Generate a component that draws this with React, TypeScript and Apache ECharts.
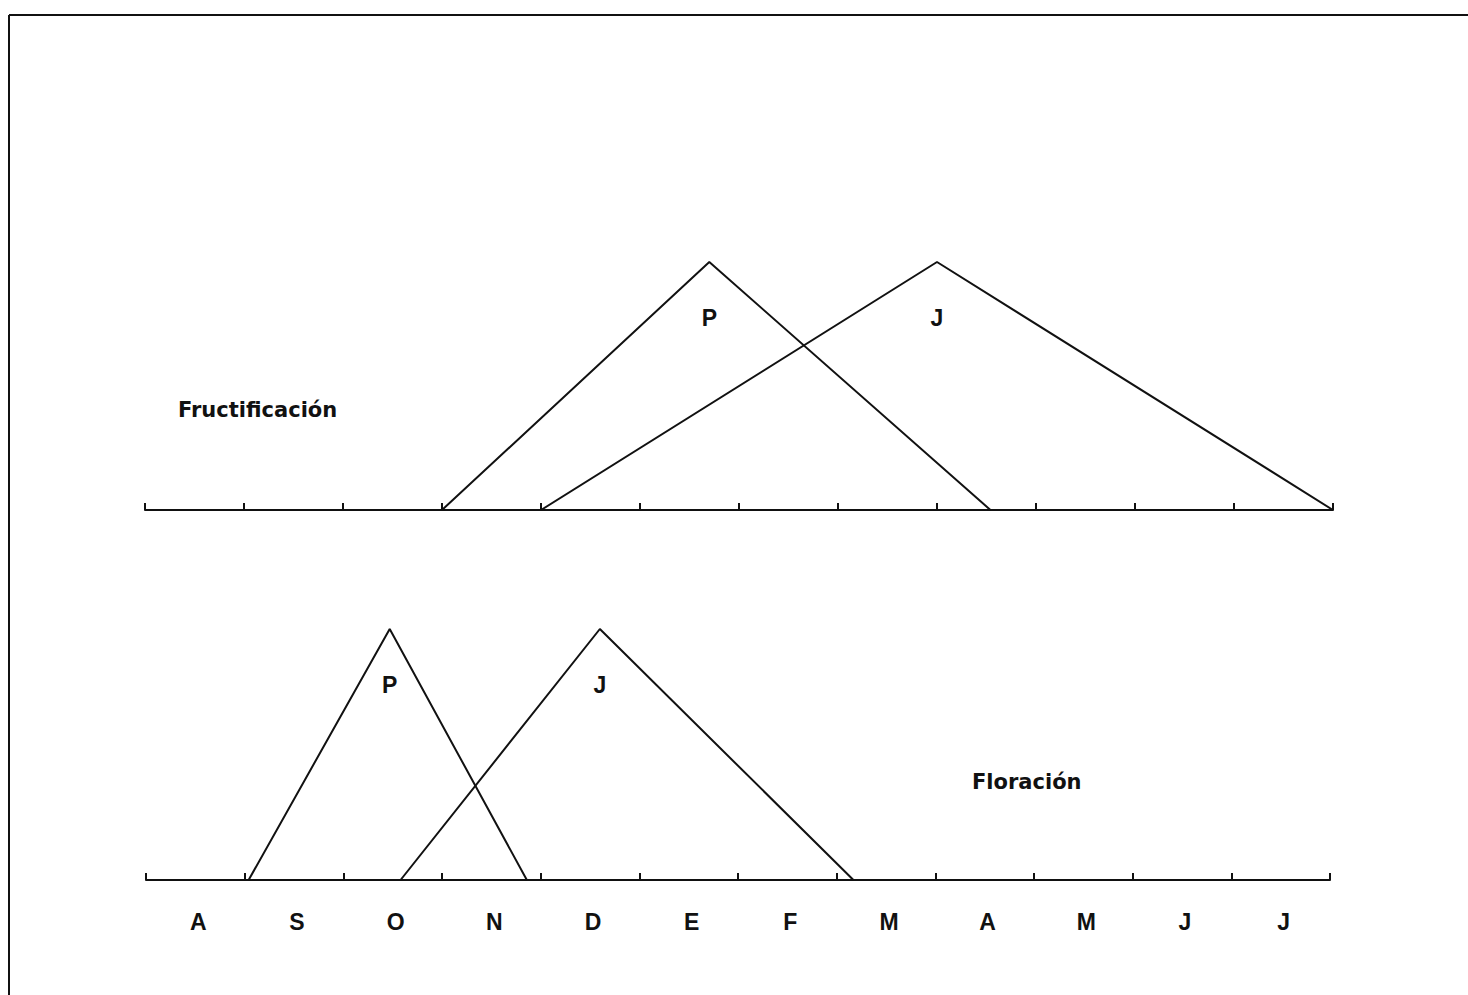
import React, { useEffect, useRef } from "react";
import * as echarts from "echarts";

const months = ["A", "S", "O", "N", "D", "E", "F", "M", "A", "M", "J", "J"];
// x in month units from start of August (0) to end of July (12); y is relative intensity
const fructP: [number, number][] = [[3.0, 0], [5.7, 1], [8.54, 0]];
const fructJ: [number, number][] = [[4.0, 0], [8.0, 1], [12.0, 0]];
const florP: [number, number][] = [[1.04, 0], [2.47, 1], [3.86, 0]];
const florJ: [number, number][] = [[2.58, 0], [4.6, 1], [7.17, 0]];
const seriesNames = ["P", "J"];

const FONT = "'Liberation Sans', Arial, sans-serif";
const TITLE_FONT = "'DejaVu Sans', sans-serif";
const INK = "#111111";

function tri(data: [number, number][], name: string, idx: number) {
  return {
    type: "line",
    name,
    xAxisIndex: idx,
    yAxisIndex: idx,
    symbol: "none",
    lineStyle: { color: INK, width: 2 },
    data,
  };
}

function peakLabel(data: [number, number][], name: string, idx: number) {
  return {
    type: "scatter",
    name,
    xAxisIndex: idx,
    yAxisIndex: idx,
    symbolSize: 0.5,
    itemStyle: { color: INK, opacity: 1 },
    label: {
      show: true,
      formatter: name,
      position: "bottom",
      distance: 44,
      fontFamily: FONT,
      fontWeight: "bold",
      fontSize: 23,
      color: INK,
      opacity: 1,
    },
    data: [data[1]],
  };
}

export default function App() {
  const ref = useRef<HTMLDivElement>(null);
  useEffect(() => {
    const chart = echarts.init(ref.current!, null, { renderer: "svg" });
    const valueAxis = (gi: number) => ({
      type: "value",
      gridIndex: gi,
      min: 0,
      max: 12,
      interval: 1,
      axisLine: { show: true, lineStyle: { color: INK, width: 2 } },
      axisTick: { show: true, inside: true, length: 7, lineStyle: { color: INK, width: 2 } },
      axisLabel: { show: false },
      splitLine: { show: false },
    });
    chart.setOption({
      animation: false,
      backgroundColor: "#ffffff",
      grid: [
        { left: 145, right: 135, top: 262, height: 248 },
        { left: 146, right: 138, top: 629, height: 251 },
      ],
      xAxis: [
        valueAxis(0),
        valueAxis(1),
        {
          type: "category",
          gridIndex: 1,
          data: months,
          boundaryGap: true,
          position: "bottom",
          axisLine: { show: false },
          axisTick: { show: false },
          axisLabel: {
            show: true,
            margin: 30,
            fontFamily: FONT,
            fontWeight: "bold",
            fontSize: 23,
            color: INK,
            padding: [0, 0, 0, 6],
          },
        },
      ],
      yAxis: [
        { type: "value", gridIndex: 0, min: 0, max: 1, show: false },
        { type: "value", gridIndex: 1, min: 0, max: 1, show: false },
      ],
      series: [
        tri(fructP, seriesNames[0], 0),
        tri(fructJ, seriesNames[1], 0),
        tri(florP, seriesNames[0], 1),
        tri(florJ, seriesNames[1], 1),
        peakLabel(fructP, seriesNames[0], 0),
        peakLabel(fructJ, seriesNames[1], 0),
        peakLabel(florP, seriesNames[0], 1),
        peakLabel(florJ, seriesNames[1], 1),
      ],
      graphic: [
        { type: "line", shape: { x1: 9, y1: 15, x2: 1468, y2: 15 }, style: { stroke: INK, lineWidth: 2 } },
        { type: "line", shape: { x1: 9, y1: 15, x2: 9, y2: 995 }, style: { stroke: INK, lineWidth: 2 } },
        {
          type: "text",
          x: 178,
          y: 410,
          style: {
            text: "Fructificación",
            fontFamily: TITLE_FONT,
            fontWeight: "bold",
            fontSize: 21,
            fill: INK,
            verticalAlign: "middle",
          },
        },
        {
          type: "text",
          x: 972,
          y: 782,
          style: {
            text: "Floración",
            fontFamily: TITLE_FONT,
            fontWeight: "bold",
            fontSize: 21,
            fill: INK,
            verticalAlign: "middle",
          },
        },
      ],
    });
    return () => chart.dispose();
  }, []);
  return (
    <div
      ref={ref}
      style={{ position: "fixed", left: 0, top: 0, width: 1468, height: 995, background: "#fff" }}
    />
  );
}
